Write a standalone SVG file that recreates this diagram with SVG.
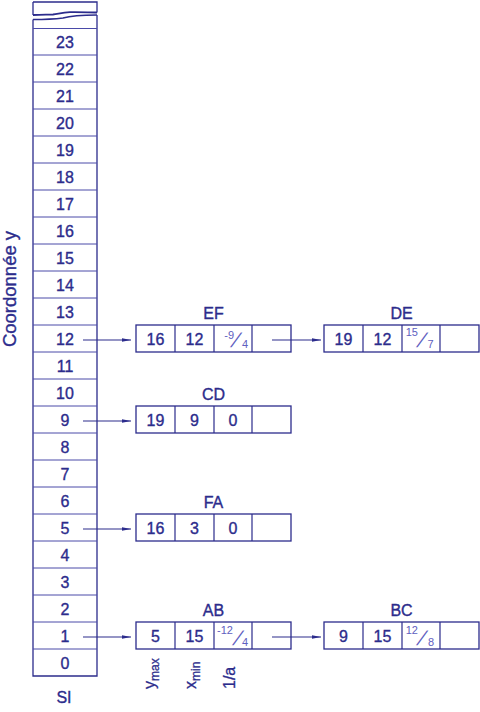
<svg xmlns="http://www.w3.org/2000/svg" width="480" height="712" viewBox="0 0 480 712">
<defs>
<style>
.t{font-family:"Liberation Sans",Arial,sans-serif;font-size:16px;fill:#2c2c8c;stroke:#2c2c8c;stroke-width:0.35;text-anchor:middle}
.f{font-family:"Liberation Sans",Arial,sans-serif;font-size:11px;fill:#6060c0}
.sl{font-family:"Liberation Sans",Arial,sans-serif;font-size:20px;fill:#6060c0}
.o{fill:none;stroke:#2c2c8c;stroke-width:1.3}
.d{fill:none;stroke:#4a4aa8;stroke-width:1}
.c{fill:none;stroke:#2c2c8c;stroke-width:1.2}
.r{font-family:"Liberation Sans",Arial,sans-serif;font-size:16px;fill:#2c2c8c;stroke:#2c2c8c;stroke-width:0.3}
</style>
<marker id="ah" markerUnits="userSpaceOnUse" markerWidth="10" markerHeight="5" refX="9" refY="2" orient="auto">
<path d="M0,0.3 L9,2 L0,3.7 z" fill="#2c2c8c"/>
</marker>
</defs>
<rect width="480" height="712" fill="#ffffff"/>

<g id="column">
<path class="o" d="M33,2 H97 V12.5 M33,2 V15"/>
<path d="M33,15 C42,15 48,14.5 53,14.5 C58,14 62,12.5 70,12.2 C80,12 90,12.5 97,12.5" fill="none" stroke="#2c2c8c" stroke-width="1.8"/>
<path d="M33,19.5 C45,19.5 55,19 63,18 C70,16 80,15 97,15" fill="none" stroke="#2c2c8c" stroke-width="1.6"/>
<path class="o" d="M33,19.5 V676 H97 V15"/>
<path class="d" d="M33,28.5 H97 M33,55 H97 M33,82 H97 M33,109 H97 M33,136 H97 M33,163 H97 M33,190 H97 M33,217 H97 M33,244 H97 M33,271 H97 M33,298 H97 M33,325 H97 M33,352 H97 M33,379 H97 M33,406 H97 M33,433 H97 M33,460 H97 M33,487 H97 M33,514 H97 M33,541 H97 M33,568 H97 M33,595 H97 M33,622 H97 M33,649 H97"/>
<text class="t" x="65" y="48">23</text>
<text class="t" x="65" y="75">22</text>
<text class="t" x="65" y="102">21</text>
<text class="t" x="65" y="129">20</text>
<text class="t" x="65" y="156">19</text>
<text class="t" x="65" y="183">18</text>
<text class="t" x="65" y="210">17</text>
<text class="t" x="65" y="237">16</text>
<text class="t" x="65" y="264">15</text>
<text class="t" x="65" y="291">14</text>
<text class="t" x="65" y="318">13</text>
<text class="t" x="65" y="345">12</text>
<text class="t" x="65" y="372">11</text>
<text class="t" x="65" y="399">10</text>
<text class="t" x="65" y="426">9</text>
<text class="t" x="65" y="453">8</text>
<text class="t" x="65" y="480">7</text>
<text class="t" x="65" y="507">6</text>
<text class="t" x="65" y="534">5</text>
<text class="t" x="65" y="561">4</text>
<text class="t" x="65" y="588">3</text>
<text class="t" x="65" y="615">2</text>
<text class="t" x="65" y="642">1</text>
<text class="t" x="65" y="669">0</text>
<text class="t" x="64" y="703">SI</text>
</g>

<g id="axis-label">
<text class="t" transform="translate(16,289) rotate(-90)" style="font-size:18.5px">Coordonnée y</text>
</g>

<g id="EF">
<text class="t" x="213.5" y="319">EF</text>
<rect class="o" x="136" y="325" width="155" height="27"/>
<path class="c" d="M175,325 V352 M214,325 V352 M252,325 V352"/>
<text class="t" x="155.5" y="345">16</text>
<text class="t" x="194.5" y="345">12</text>
<text class="f" x="234" y="339" text-anchor="end">-9</text>
<text class="sl" transform="translate(230,347) skewX(-25)">/</text>
<text class="f" x="242" y="348">4</text>
</g>

<g id="DE">
<text class="t" x="401.5" y="319">DE</text>
<rect class="o" x="324" y="325" width="155" height="27"/>
<path class="c" d="M363,325 V352 M402,325 V352 M440,325 V352"/>
<text class="t" x="343.5" y="345">19</text>
<text class="t" x="382.5" y="345">12</text>
<text class="f" x="418" y="336" text-anchor="end">15</text>
<text class="sl" transform="translate(416,347) skewX(-25)">/</text>
<text class="f" x="427.5" y="348">7</text>
</g>

<g id="CD">
<text class="t" x="213.5" y="400">CD</text>
<rect class="o" x="136" y="406" width="155" height="27"/>
<path class="c" d="M175,406 V433 M214,406 V433 M252,406 V433"/>
<text class="t" x="155.5" y="426">19</text>
<text class="t" x="194.5" y="426">9</text>
<text class="t" x="233" y="426">0</text>
</g>

<g id="FA">
<text class="t" x="213.5" y="508">FA</text>
<rect class="o" x="136" y="514" width="155" height="27"/>
<path class="c" d="M175,514 V541 M214,514 V541 M252,514 V541"/>
<text class="t" x="155.5" y="534">16</text>
<text class="t" x="194.5" y="534">3</text>
<text class="t" x="233" y="534">0</text>
</g>

<g id="AB">
<text class="t" x="213.5" y="616">AB</text>
<rect class="o" x="136" y="622" width="155" height="27"/>
<path class="c" d="M175,622 V649 M214,622 V649 M252,622 V649"/>
<text class="t" x="155.5" y="642">5</text>
<text class="t" x="194.5" y="642">15</text>
<text class="f" x="233" y="634" text-anchor="end">-12</text>
<text class="sl" transform="translate(232,645) skewX(-25)">/</text>
<text class="f" x="242" y="646">4</text>
</g>

<g id="BC">
<text class="t" x="401.5" y="616">BC</text>
<rect class="o" x="324" y="622" width="155" height="27"/>
<path class="c" d="M363,622 V649 M402,622 V649 M440,622 V649"/>
<text class="t" x="343.5" y="642">9</text>
<text class="t" x="382.5" y="642">15</text>
<text class="f" x="418" y="634" text-anchor="end">12</text>
<text class="sl" transform="translate(416,645) skewX(-25)">/</text>
<text class="f" x="428" y="646">8</text>
</g>

<g id="field-labels">
<text class="r" transform="translate(155,689) rotate(-90)">y<tspan dy="4" style="font-size:12px">max</tspan></text>
<text class="r" transform="translate(196,689) rotate(-90)">x<tspan dy="4" style="font-size:12px">min</tspan></text>
<text class="r" transform="translate(235,689) rotate(-90)">1/a</text>
</g>

<g id="connectors">
<line class="c" x1="83" y1="340" x2="131" y2="340" marker-end="url(#ah)"/>
<line class="c" x1="272" y1="340" x2="321" y2="340" marker-end="url(#ah)"/>
<line class="c" x1="83" y1="421" x2="131" y2="421" marker-end="url(#ah)"/>
<line class="c" x1="83" y1="529" x2="131" y2="529" marker-end="url(#ah)"/>
<line class="c" x1="83" y1="637" x2="131" y2="637" marker-end="url(#ah)"/>
<line class="c" x1="272" y1="637" x2="321" y2="637" marker-end="url(#ah)"/>
</g>
</svg>
